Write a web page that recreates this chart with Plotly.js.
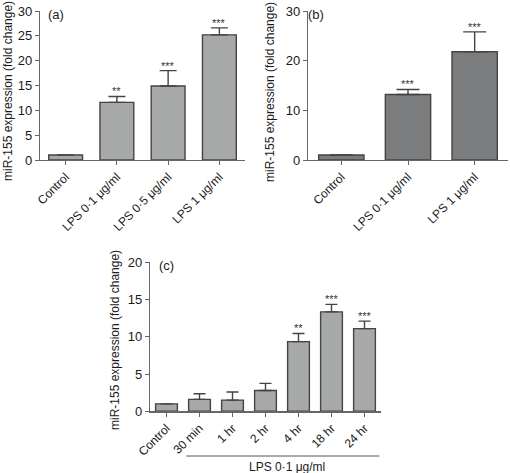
<!DOCTYPE html>
<html>
<head>
<meta charset="utf-8">
<script src="https://cdn.plot.ly/plotly-3.0.1.min.js"></script>
<style>html,body{margin:0;padding:0;background:#fff;}#chart{width:510px;height:473px;}</style>
</head>
<body>
<div id="chart"></div>
<script>
// Panel (a)
const catsA = ["Control", "LPS 0·1 μg/ml", "LPS 0·5 μg/ml", "LPS 1 μg/ml"];
const valsA = [1.0, 11.6, 14.9, 25.2];
const errA  = [0, 1.2, 3.1, 1.4];
const starsA = ["", "**", "***", "***"];
const ticksA = [0, 5, 10, 15, 20, 25, 30];

// Panel (b)
const catsB = ["Control", "LPS 0·1 μg/ml", "LPS 1 μg/ml"];
const valsB = [1.0, 13.2, 21.8];
const errB  = [0, 1.0, 4.0];
const starsB = ["", "***", "***"];
const ticksB = [0, 10, 20, 30];

// Panel (c)
const catsC = ["Control", "30 min", "1 hr", "2 hr", "4 hr", "18 hr", "24 hr"];
const valsC = [1.0, 1.6, 1.5, 2.8, 9.35, 13.35, 11.1];
const errC  = [0, 0.75, 1.1, 0.95, 1.1, 1.0, 1.0];
const starsC = ["", "", "", "", "**", "***", "***"];
const ticksC = [0, 5, 10, 15, 20];

const yTitle = "miR-155 expression (fold change)";
const groupLabel = "LPS 0·1 μg/ml";

const FONT = "Liberation Sans, Arial, Helvetica, sans-serif";
const TXT = "#1a1a1a";
const W = 510, H = 473;
const px = v => v / W;
const py = v => 1 - v / H;

function barTrace(cats, vals, errs, color, ax, ay, capw, width) {
  return {
    type: "bar", x: cats, y: vals, xaxis: ax, yaxis: ay, width: width,
    marker: {color: color, line: {color: "#444", width: 1.4}},
    error_y: {type: "data", symmetric: false, array: errs, arrayminus: errs.map(() => 0),
              color: "#444", thickness: 1.4, width: capw},
    hoverinfo: "skip"
  };
}

const data = [
  barTrace(catsA, valsA, errA, "#a7a9a9", "x", "y", 8.5, 0.66),
  barTrace(catsB, valsB, errB, "#7b7c7d", "x2", "y2", 11.5, 0.68),
  barTrace(catsC, valsC, errC, "#a7a9a9", "x3", "y3", 6, 0.66)
];

function xax(domain, anchor, range) {
  return {domain: domain, anchor: anchor, type: "category", range: range,
    showline: true, linecolor: "#666", linewidth: 1.2, ticks: "outside", ticklen: 4,
    tickcolor: "#666", tickwidth: 1, tickangle: -45, automargin: false,
    tickfont: {family: FONT, size: 12, color: TXT}, showgrid: false, zeroline: false, fixedrange: true};
}
function yax(domain, anchor, range, tickvals) {
  return {domain: domain, anchor: anchor, range: range, tickvals: tickvals,
    showline: true, linecolor: "#666", linewidth: 1.2, ticks: "outside", ticklen: 4,
    tickcolor: "#666", tickwidth: 1, automargin: false,
    tickfont: {family: FONT, size: 13, color: TXT}, showgrid: false, zeroline: false, fixedrange: true};
}

const annotations = [];
function addStars(cats, vals, errs, stars, ax, ay, shift) {
  cats.forEach((c, i) => {
    if (!stars[i]) return;
    annotations.push({xref: ax, yref: ay, x: c, y: vals[i] + errs[i], text: stars[i],
      showarrow: false, yanchor: "bottom", yshift: shift,
      font: {family: FONT, size: 11, color: "#333"}});
  });
}
addStars(catsA, valsA, errA, starsA, "x", "y", -3);
addStars(catsB, valsB, errB, starsB, "x2", "y2", -3);
addStars(catsC, valsC, errC, starsC, "x3", "y3", -3);

function label(text, x, y) {
  annotations.push({xref: "paper", yref: "paper", x: px(x), y: py(y), text: text,
    showarrow: false, xanchor: "center", yanchor: "middle",
    font: {family: FONT, size: 13, color: TXT}});
}
label("(a)", 56, 14);
label("(b)", 316, 14);
label("(c)", 166, 265);

function vTitle(x, y) {
  annotations.push({xref: "paper", yref: "paper", x: px(x), y: py(y), text: yTitle,
    showarrow: false, textangle: -90, xanchor: "center", yanchor: "middle",
    font: {family: FONT, size: 12, color: TXT}});
}
vTitle(8, 91);
vTitle(270, 92);
vTitle(115, 340);

annotations.push({xref: "paper", yref: "paper", x: px(287), y: py(467), text: groupLabel,
  showarrow: false, xanchor: "center", yanchor: "middle",
  font: {family: FONT, size: 12, color: TXT}});

const layout = {
  width: W, height: H, margin: {l: 0, r: 0, t: 0, b: 0},
  paper_bgcolor: "#fff", plot_bgcolor: "#fff", showlegend: false,
  xaxis:  xax([px(40), px(245)], "y", [-0.5, 3.5]),
  yaxis:  yax([py(160), py(11)], "x", [0, 30], ticksA),
  xaxis2: xax([px(308), px(508)], "y2", [-0.5, 2.5]),
  yaxis2: yax([py(160), py(11)], "x2", [0, 30], ticksB),
  xaxis3: xax([px(150), px(381)], "y3", [-0.5, 6.5]),
  yaxis3: yax([py(411.3), py(262.3)], "x3", [0, 20], ticksC),
  annotations: annotations,
  shapes: [{type: "line", xref: "x3", yref: "paper", x0: 0.6, x1: 6.45,
            y0: py(456), y1: py(456), line: {color: "#555", width: 1}}]
};

Plotly.newPlot("chart", data, layout, {staticPlot: true, displayModeBar: false});
</script>
</body>
</html>
